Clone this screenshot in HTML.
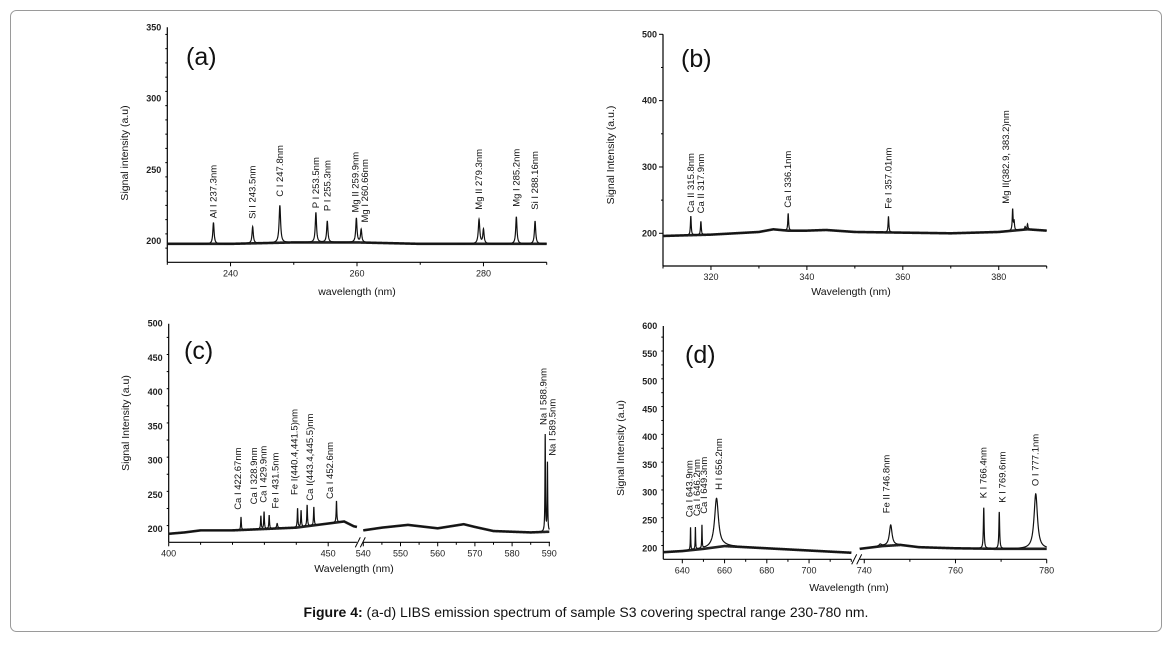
<!DOCTYPE html>
<html><head><meta charset="utf-8"><style>
html,body{margin:0;padding:0;background:#fff;}
svg{display:block;font-family:"Liberation Sans",sans-serif;}
</style></head><body>
<svg id="fig" width="1173" height="645" viewBox="0 0 1173 645" xmlns="http://www.w3.org/2000/svg">
<rect x="10.5" y="10.5" width="1151" height="621" rx="6" fill="#fff" stroke="#9a9a9a"/>
<text x="586" y="617" text-anchor="middle" font-size="14" fill="#111"><tspan font-weight="bold">Figure 4:</tspan> (a-d) LIBS emission spectrum of sample S3 covering spectral range 230-780 nm.</text>
</svg>
<script>
// ---------- Panel (a) data ----------
const aBaseX=[230,240,250,260,270,280,290];
const aBaseY=[198,198,199,199,198,198,198];
const aPeakX=[237.3,243.5,247.8,253.5,255.3,259.9,260.66,279.3,280.0,285.2,288.16];
const aPeakY=[213,210,225,220,214,216,208,215,208,217,214];
const aPeakW=[0.12,0.12,0.14,0.12,0.12,0.12,0.12,0.14,0.12,0.12,0.12];
const aLabels=["Al I 237.3nm","Si I 243.5nm","C I 247.8nm","P I 253.5nm","P I 255.3nm","Mg II 259.9nm","Mg I 260.66nm","Mg II 279.3nm","Mg I 285.2nm","Si I 288.16nm"];
const aLabX=[237.3,243.5,247.8,253.5,255.3,259.8,261.3,279.3,285.2,288.16];
const aLabY=[216,215.5,231,223,221,220,213,222,224,222];
const aXTicks=[240,260,280];
const aYTicks=[200,250,300,350];
// ---------- Panel (b) data ----------
const bBaseX=[310,315,320,330,333,336,340,344,350,360,370,380,383,386,390];
const bBaseY=[196,197,198,202,206,204,204,205,202,201,200,202,204,206,204];
const bPeakX=[315.8,317.9,336.1,357.01,382.9,383.2,385.5,386.0];
const bPeakY=[226,218,230,225,236,217,210,214];
const bPeakW=[0.1,0.1,0.1,0.1,0.1,0.1,0.1,0.1];
const bLabels=["Ca II 315.8nm","Ca II 317.9nm","Ca I 336.1nm","Fe I 357.01nm","Mg II(382.9, 383.2)nm"];
const bLabX=[315.8,317.9,336.1,357.01,381.5];
const bLabY=[231,230,238.6,237,244.6];
const bXTicks=[320,340,360,380];
const bYTicks=[200,300,400,500];
// ---------- Panel (c) data ----------
const cBaseX=[400,405,410,420,430,440,445,450,455,458,459,540,545,552,560,567,570,575,585,590];
const cBaseY=[193,195,198,198,200,202,205,208,211,204,203,198,202,206,201,207,203,197,195,196];
const cPeakX=[422.67,428.9,429.9,431.5,434.0,440.4,441.5,443.4,445.5,452.6,588.9,589.5];
const cPeakY=[217,219,225,220,208,230,227,235,232,241,337,296];
const cPeakW=[0.12,0.12,0.12,0.12,0.2,0.12,0.12,0.12,0.12,0.12,0.08,0.08];
const cLabels=["Ca I 422.67nm","Ca I 328.9nm","Ca I 429.9nm","Fe I 431.5nm","Fe I(440.4,441.5)nm","Ca I(443.4,445.5)nm","Ca I 452.6nm","Na I 588.9nm","Na I 589.5nm"];
const cLabX=[421.8,426.7,429.7,433.5,439.4,444.3,450.6,588.4,590.9];
const cLabY=[228,236,238.4,230,249.7,241.4,243.8,352,307];
const cXTicks=[400,450,540,550,560,570,580,590];
const cYTicks=[200,250,300,350,400,450,500];
// ---------- Panel (d) data ----------
const dBaseX=[631,640,650,660,665,680,700,720,739,744,748,752,760,770,780];
const dBaseY=[193,195,199,204,203,200,196,192,199,204,206,202,200,199,199];
const dPeakX=[643.9,646.2,649.3,656.2,743.5,745.8,766.2,769.6,777.6];
const dPeakY=[237,237,240,290,207,242,273,265,298];
const dPeakW=[0.12,0.12,0.12,1.1,0.3,0.35,0.1,0.1,0.45];
const dLabels=["Ca I 643.9nm","Ca I 646.2nm","Ca I 649.3nm","H I 656.2nm","Fe II 746.8nm","K I 766.4nm","K I 769.6nm","O I 777.1nm"];
const dLabX=[643.3,647.0,650.3,657.4,744.9,766.1,770.3,777.5];
const dLabY=[256,258,262,305,263,290,282,312];
const dXTicks=[640,660,680,700,740,760,780];
const dYTicks=[200,250,300,350,400,450,500,550,600];

const NS="http://www.w3.org/2000/svg";
const svg=document.getElementById('fig');
function el(tag,attrs,parent){const e=document.createElementNS(NS,tag);for(const k in attrs)e.setAttribute(k,attrs[k]);(parent||svg).appendChild(e);return e;}
function interp(xs,ys,x){if(x<=xs[0])return ys[0];for(let i=1;i<xs.length;i++){if(x<=xs[i]){const t=(x-xs[i-1])/(xs[i]-xs[i-1]);return ys[i-1]+t*(ys[i]-ys[i-1]);}}return ys[ys.length-1];}

function drawPanel(P){
  const g=el('g',{});
  
  
  const ymap=v=>P.pyA+(v-P.vA)*(P.pyB-P.pyA)/(P.vB-P.vA);
  const segOf=x=>{
    let s=P.segs.find(s=>x>=s.d0-1e-9&&x<=s.d1+1e-9);
    if(s)return s;
    let best=P.segs[0],bd=1e9;
    P.segs.forEach(q=>{const d=Math.min(Math.abs(x-q.d0),Math.abs(x-q.d1));if(d<bd){bd=d;best=q;}});
    return best;
  };
  const xmap=x=>{const s=segOf(x);return s.p0+(x-s.d0)*(s.p1-s.p0)/(s.d1-s.d0);};
  const yBot=P.axisBot;
  const ya=el('line',{x1:P.segs[0].p0,y1:ymap(P.yMax),x2:P.segs[0].p0,y2:yBot,stroke:'#000','stroke-width':1.2},g);
  
  P.segs.forEach((s,i)=>{
    const xa=el('line',{x1:s.p0,y1:yBot,x2:s.axEnd||s.p1,y2:yBot,stroke:'#000','stroke-width':1.2},g);
    
    if(i>0){
      const bx=s.p0;
      for(const off of [-6,-1]){const b=el('line',{x1:bx+off-2,y1:yBot+5,x2:bx+off+3,y2:yBot-5,stroke:'#000','stroke-width':1},g);
        }
    }
  });
  for(let v=P.yMin;v<=P.yMax+1e-6;v+=P.yMinor){
    const major=P.yTicks.some(t=>Math.abs(t-v)<1e-6);
    const y=ymap(v);if(y>yBot)continue;
    el('line',{x1:P.segs[0].p0-(major?4:2),y1:y,x2:P.segs[0].p0,y2:y,stroke:'#000','stroke-width':1},g);
  }
  P.yTicks.forEach(v=>{const t=el('text',{x:P.segs[0].p0-6,y:ymap(v)+3,'text-anchor':'end','font-size':9,'font-weight':'bold',fill:'#222'},g);t.textContent=v;
    });
  P.segs.forEach(s=>{
    const st=Math.ceil(s.d0/s.minor)*s.minor;
    for(let v=st;v<=s.d1+1e-6;v+=s.minor){const x=xmap(v);
      const major=P.xTicks.includes(v);
      el('line',{x1:x,y1:yBot,x2:x,y2:yBot+(major?4:2.5),stroke:'#000','stroke-width':1},g);}
  });
  P.xTicks.forEach(v=>{const t=el('text',{x:xmap(v),y:yBot+14,'text-anchor':'middle','font-size':9,fill:'#222'},g);t.textContent=v;
    });
  const xt=el('text',{x:P.xTitleX,y:P.xTitleY,'text-anchor':'middle','font-size':10.5,fill:'#111'},g);xt.textContent=P.xTitle;
  
  const yt=el('text',{transform:`translate(${P.yTitleX},${P.yTitleY}) rotate(-90)`,'text-anchor':'middle','font-size':10.5,fill:'#111'},g);yt.textContent=P.yTitle;
  
  const pl=el('text',{x:P.tagX,y:P.tagY,'font-size':25,fill:'#111'},g);pl.textContent='('+P.id+')';
  
  P.segs.forEach(s=>{
    let dLine='',dBase='';
    const step=0.02;
    for(let x=s.d0;x<=s.d1+1e-9;x+=step){
      const b=interp(P.baseX,P.baseY,x);
      let y=b;
      for(let i=0;i<P.pkX.length;i++){const bb=interp(P.baseX,P.baseY,P.pkX[i]);const u=(x-P.pkX[i])/P.pkW[i];y+=(P.pkY[i]-bb)/(1+u*u);}
      const px=xmap(x).toFixed(2);
      dLine+=(dLine?'L':'M')+px+','+ymap(y).toFixed(2);
      dBase+=(dBase?'L':'M')+px+','+ymap(b).toFixed(2);
    }
    const bp=el('path',{d:dBase,fill:'none',stroke:'#222','stroke-width':2.6,'stroke-linejoin':'round'},g);
    
    const lp=el('path',{d:dLine,fill:'none',stroke:'#111','stroke-width':1.2},g);
    
  });
  P.labels.forEach((txt,i)=>{
    const t=el('text',{transform:`translate(${(xmap(P.labX[i])+3).toFixed(1)},${ymap(P.labY[i]).toFixed(1)}) rotate(-90)`,'font-size':9.5,fill:'#111'},g);
    t.textContent=txt;
    
    
  });
}

drawPanel({id:'a',vA:200,pyA:241,vB:350,pyB:27.3,yMin:185,yMax:350,yMinor:10,axisBot:262.3,
  segs:[{d0:230,d1:290,p0:167.3,p1:546.7,minor:10}],xTicks:aXTicks,yTicks:aYTicks,
  baseX:aBaseX,baseY:aBaseY,pkX:aPeakX,pkY:aPeakY,pkW:aPeakW,labels:aLabels,labX:aLabX,labY:aLabY,
  xTitle:'wavelength (nm)',xTitleX:357,xTitleY:295,yTitle:'Signal intensity (a.u)',yTitleX:128,yTitleY:153,tagX:186,tagY:65});
drawPanel({id:'b',vA:200,pyA:233.3,vB:500,pyB:34.3,yMin:150,yMax:500,yMinor:50,axisBot:266,
  segs:[{d0:310,d1:390,p0:663,p1:1046.7,minor:10}],xTicks:bXTicks,yTicks:bYTicks,
  baseX:bBaseX,baseY:bBaseY,pkX:bPeakX,pkY:bPeakY,pkW:bPeakW,labels:bLabels,labX:bLabX,labY:bLabY,
  xTitle:'Wavelength (nm)',xTitleX:851,xTitleY:295,yTitle:'Signal Intensity (a.u.)',yTitleX:614,yTitleY:155,tagX:681,tagY:67});
drawPanel({id:'c',vA:200,pyA:529,vB:500,pyB:323.7,yMin:180,yMax:500,yMinor:25,axisBot:542.3,
  segs:[{d0:400,d1:459,p0:168.7,p1:356.9,minor:10},{d0:540,d1:590,p0:363.3,p1:549.3,minor:5,axEnd:550}],xTicks:cXTicks,yTicks:cYTicks,
  baseX:cBaseX,baseY:cBaseY,pkX:cPeakX,pkY:cPeakY,pkW:cPeakW,labels:cLabels,labX:cLabX,labY:cLabY,
  xTitle:'Wavelength (nm)',xTitleX:354,xTitleY:572,yTitle:'Signal Intensity (a.u)',yTitleX:129,yTitleY:423,tagX:184,tagY:359});
drawPanel({id:'d',vA:200,pyA:548.3,vB:600,pyB:326,yMin:180,yMax:600,yMinor:25,axisBot:559.3,
  segs:[{d0:631,d1:720,p0:663.3,p1:851.3,minor:10},{d0:739,d1:780,p0:859.7,p1:1046.7,minor:10}],xTicks:dXTicks,yTicks:dYTicks,
  baseX:dBaseX,baseY:dBaseY,pkX:dPeakX,pkY:dPeakY,pkW:dPeakW,labels:dLabels,labX:dLabX,labY:dLabY,
  xTitle:'Wavelength (nm)',xTitleX:849,xTitleY:591,yTitle:'Signal Intensity (a.u)',yTitleX:624,yTitleY:448,tagX:685,tagY:363});
</script>
</body></html>
